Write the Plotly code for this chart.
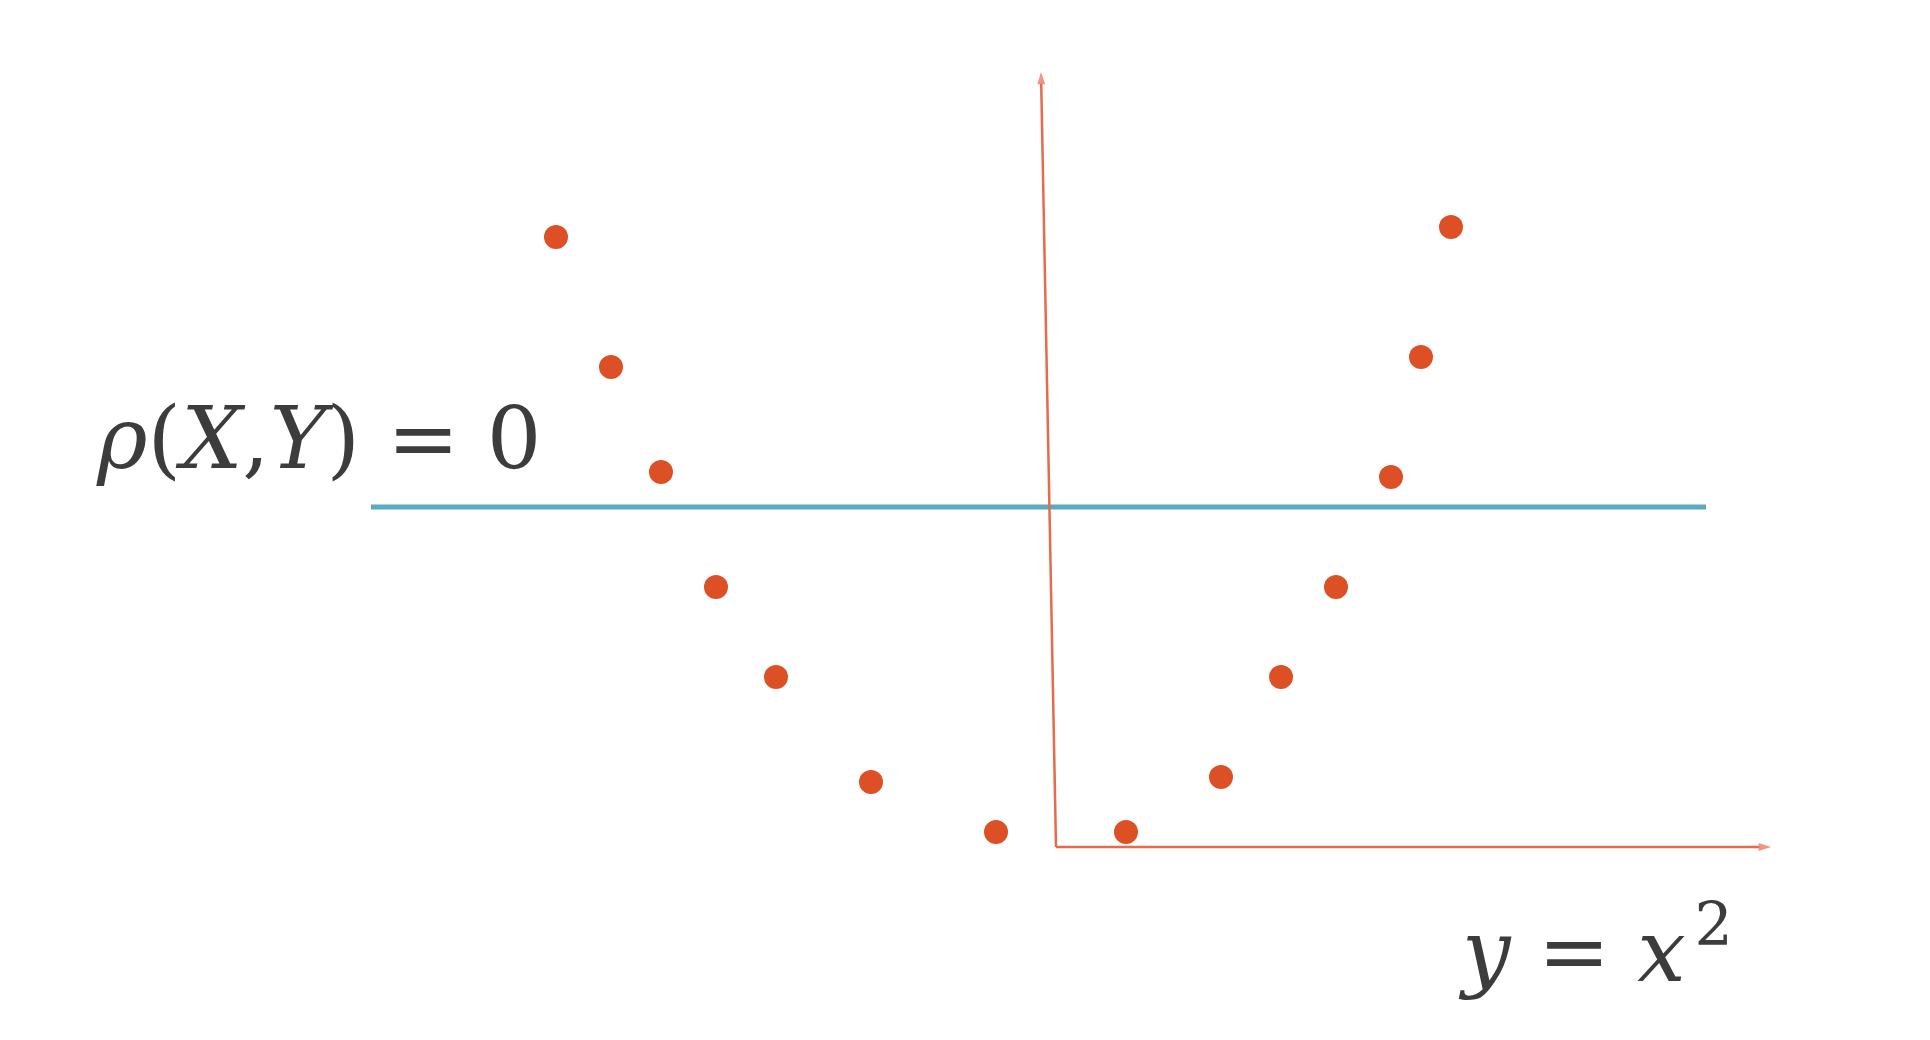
import plotly.graph_objects as go

# Data (scatter points of y = x^2 style, drawn by hand)
x_vals = [-10.0, -8.9, -7.9, -6.8, -5.6, -3.7, -1.2, 1.4, 3.3, 4.5, 5.6, 6.7, 7.3, 7.9]
y_vals = [12.2, 9.6, 7.5, 5.2, 3.4, 1.3, 0.3, 0.3, 1.4, 3.4, 5.2, 7.4, 9.8, 12.4]

# Horizontal correlation line (rho = 0)
rho_line_x = [-13.7, 13.0]
rho_level = 6.8

# Hand-drawn axes
h_axis_x = [0.0, 14.3]
h_axis_y = [0.0, 0.0]
v_axis_x = [0.0, -0.3]
v_axis_y = [0.0, 15.5]

DOT = "#dd5025"
AXIS = "#e8694c"
BLUE = "#5aaac2"
TEXT = "#3c3c3c"

fig = go.Figure()

fig.add_trace(go.Scatter(x=rho_line_x, y=[rho_level, rho_level], mode="lines",
                         line=dict(color=BLUE, width=5), hoverinfo="skip", showlegend=False))
for ax_x, ax_y in ((h_axis_x, h_axis_y), (v_axis_x, v_axis_y)):
    fig.add_trace(go.Scatter(x=ax_x, y=ax_y, mode="lines+markers",
                             line=dict(color=AXIS, width=2.5),
                             marker=dict(symbol="arrow", angleref="previous", size=[0, 13],
                                         color=AXIS, line=dict(width=0)),
                             hoverinfo="skip", showlegend=False))
fig.add_trace(go.Scatter(x=x_vals, y=y_vals, mode="markers",
                         marker=dict(color=DOT, size=24, line=dict(width=0)),
                         showlegend=False))

fig.add_annotation(x=-19.25, y=8.18, xref="x", yref="y", xanchor="left", yanchor="middle",
                   text="<i>ρ</i>(<i>X</i>,<i>Y</i>) = 0", showarrow=False,
                   font=dict(family="DejaVu Serif", size=86, color=TEXT))
fig.add_annotation(x=8.0, y=-1.95, xref="x", yref="y", xanchor="left", yanchor="middle",
                   text="<i>y</i> = <i>x</i>\u200a<sup>2</sup>", showarrow=False,
                   font=dict(family="DejaVu Serif", size=86, color=TEXT))

fig.update_layout(
    width=1930, height=1040,
    margin=dict(l=0, r=0, t=0, b=0),
    paper_bgcolor="white", plot_bgcolor="white",
    xaxis=dict(range=[-20.96, 17.64], visible=False, fixedrange=True),
    yaxis=dict(range=[-4.02, 16.78], visible=False, fixedrange=True),
)

fig.write_html("out.html")
